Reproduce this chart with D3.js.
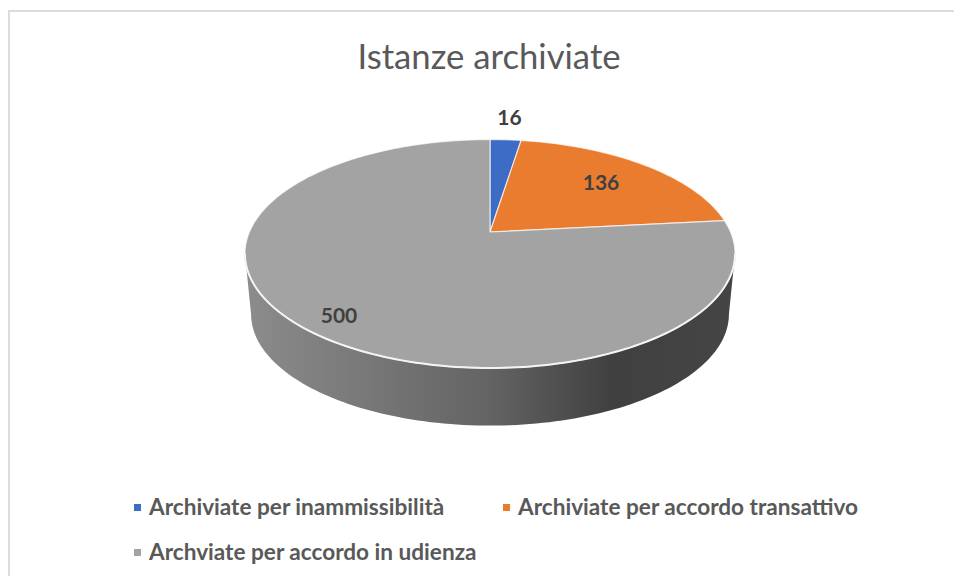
<!DOCTYPE html>
<html>
<head>
<meta charset="utf-8">
<script src="https://cdn.jsdelivr.net/npm/d3@7"></script>
<style>
  html, body { margin: 0; padding: 0; background: #fff; overflow: hidden; }
  svg { display: block; }
  text { font-family: Lato, "Open Sans", sans-serif; }
</style>
</head>
<body>
<div id="chart"></div>
<script>
var title = "Istanze archiviate";
var categories = ["Archiviate per inammissibilità", "Archiviate per accordo transattivo", "Archviate per accordo in udienza"];
var values = [16, 136, 500];
var colors = ["#3d6cc4", "#ea7c30", "#a3a3a3"];

var width = 954, height = 576;

var svg = d3.select("#chart").append("svg")
  .attr("width", width)
  .attr("height", height);

// chart frame, cropped by the picture on the right and at the bottom
svg.append("rect")
  .attr("x", 9)
  .attr("y", 11)
  .attr("width", 960)
  .attr("height", 580)
  .attr("fill", "#fff")
  .attr("stroke", "#dcdcdc")
  .attr("stroke-width", 2);

svg.append("text")
  .attr("x", 489)
  .attr("y", 69)
  .attr("text-anchor", "middle")
  .attr("font-size", 34.7)
  .attr("fill", "#595959")
  .text(title);

// tilted disc: a circle seen in perspective, so the centre sits above the ellipse middle
var cx = 490, cy = 232,
  persp = 5.25,
  scaleX = 1263,
  scaleY = 578;

function project(angle, shrink, drop) {
  var X = Math.sin(angle), Y = Math.cos(angle);
  return [
    cx + shrink * scaleX * X / (persp + Y),
    cy + drop - shrink * scaleY * Y / (persp + Y)
  ];
}

var defs = svg.append("defs");
var sideGrad = defs.append("linearGradient")
  .attr("id", "side")
  .attr("gradientUnits", "userSpaceOnUse")
  .attr("x1", 245).attr("x2", 735)
  .attr("y1", 0).attr("y2", 0);
sideGrad.append("stop").attr("offset", "0%").attr("stop-color", "#8c8c8c");
sideGrad.append("stop").attr("offset", "50%").attr("stop-color", "#636363");
sideGrad.append("stop").attr("offset", "75%").attr("stop-color", "#404040");
sideGrad.append("stop").attr("offset", "100%").attr("stop-color", "#454545");

var line = d3.line();

// side wall, between the two tangent points of the front arc
var tangent = Math.PI / 2 + Math.asin(1 / persp);
var wallAngles = d3.range(-60, 61).map(function(i) { return Math.PI + (Math.PI - tangent) * i / 60; });
var rim = wallAngles.map(function(a) { return project(a, 1, 0); });
var wall = rim.concat(wallAngles.slice().reverse().map(function(a) { return project(a, 0.975, 61); }));

svg.append("path")
  .attr("d", line(wall) + "Z")
  .attr("fill", "url(#side)");

// slices
var pie = d3.pie().sort(null);
var arcs = pie(values);

function slicePath(d) {
  var n = Math.max(8, Math.ceil((d.endAngle - d.startAngle) * 60));
  var pts = [[cx, cy]];
  for (var i = 0; i <= n; i++) {
    pts.push(project(d.startAngle + (d.endAngle - d.startAngle) * i / n, 1, 0));
  }
  return line(pts) + "Z";
}

svg.selectAll(".slice")
  .data(arcs)
  .enter().append("path")
  .attr("class", "slice")
  .attr("d", slicePath)
  .attr("fill", function(d, i) { return colors[i]; })
  .attr("stroke", "#fff")
  .attr("stroke-opacity", 0.7)
  .attr("stroke-width", 1.2)
  .attr("stroke-linejoin", "round");

// bright edge where the top meets the wall
svg.append("path")
  .attr("d", line(rim))
  .attr("fill", "none")
  .attr("stroke", "#f4f4f4")
  .attr("stroke-width", 2);

// value labels
var labelPos = [[509.5, 125], [601, 190], [339, 323]];
svg.selectAll(".value")
  .data(values)
  .enter().append("text")
  .attr("class", "value")
  .attr("x", function(d, i) { return labelPos[i][0]; })
  .attr("y", function(d, i) { return labelPos[i][1]; })
  .attr("text-anchor", "middle")
  .attr("font-size", 21)
  .attr("font-weight", "bold")
  .attr("fill", "#404040")
  .text(function(d) { return d; });

// legend
var legendPos = [[149, 515], [518, 515], [149, 560]];
var legend = svg.selectAll(".legend")
  .data(categories)
  .enter().append("g")
  .attr("class", "legend")
  .attr("transform", function(d, i) { return "translate(" + legendPos[i][0] + "," + legendPos[i][1] + ")"; });

legend.append("rect")
  .attr("x", -15)
  .attr("y", -11)
  .attr("width", 7)
  .attr("height", 7)
  .attr("fill", function(d, i) { return colors[i]; });

legend.append("text")
  .attr("x", 0)
  .attr("y", 0)
  .attr("font-size", 22.6)
  .attr("font-weight", "bold")
  .attr("fill", "#595959")
  .text(function(d) { return d; });
</script>
</body>
</html>
